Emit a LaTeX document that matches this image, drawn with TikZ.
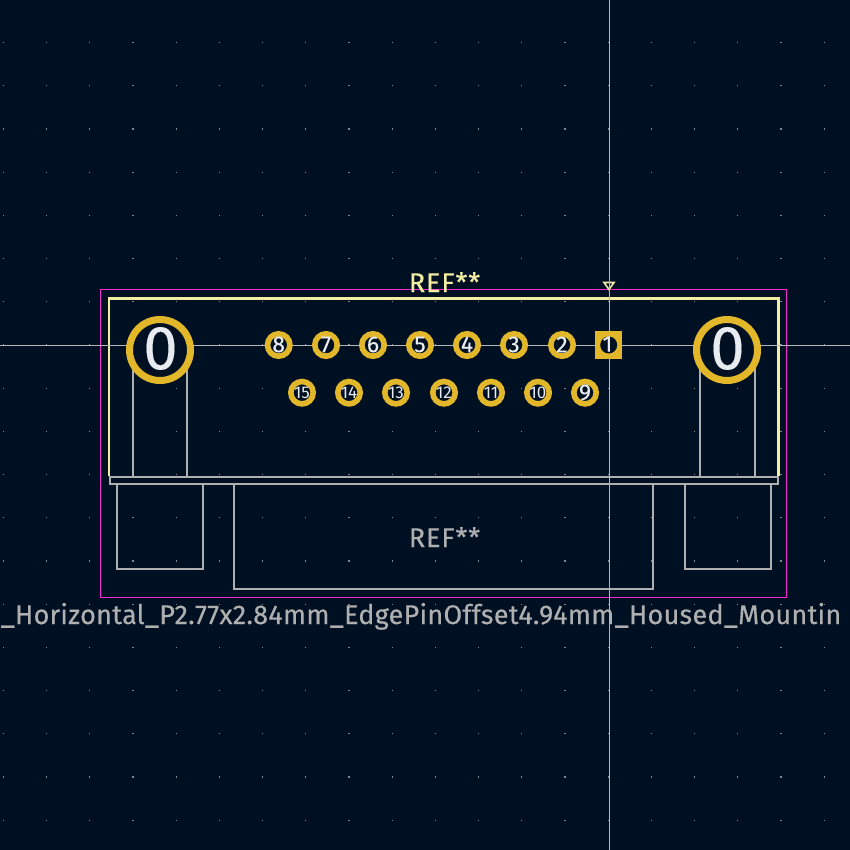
\documentclass[tikz,border=0pt]{standalone}
\usepackage{fontspec}
\setmainfont{Fira Sans}
\newfontfamily\kifont[LetterSpace=3.2,FakeBold=0.35]{Fira Sans}
\newfontfamily\valfont[LetterSpace=1.0,FakeBold=0.35]{Fira Sans}
\newfontfamily\numfont[FakeBold=0.2]{Fira Sans}
\definecolor{bgc}{HTML}{001023}
\definecolor{padc}{HTML}{E3B72A}
\definecolor{silk}{HTML}{F2EDA1}
\definecolor{crt}{HTML}{F02CD6}
\definecolor{fab}{HTML}{AFAFAF}
\definecolor{hole}{HTML}{E8EBEF}
\definecolor{griddot}{HTML}{84878C}
\definecolor{cross}{HTML}{B4B6B9}
\tikzset{
  padround/.style={circle,draw=padc,fill=bgc,line width=5.6pt,minimum size=22.4pt,inner sep=0pt},
  padsquare/.style={rectangle,fill=padc,minimum width=27.5pt,minimum height=28pt,inner sep=0pt},
  padhole/.style={circle,fill=bgc,minimum size=17pt,inner sep=0pt},
  mount/.style={circle,draw=padc,fill=bgc,line width=7pt,minimum size=61pt,inner sep=0pt},
  padnum/.style={text=hole,inner sep=0pt,font=\numfont\fontsize{23}{23}\selectfont},
  padnumsmall/.style={text=hole,inner sep=0pt,font=\fontsize{17}{17}\selectfont},
  mountnum/.style={text=hole,inner sep=0pt,font=\numfont\fontsize{62}{62}\selectfont},
  fabline/.style={draw=fab,line width=2pt},
  ref/.style={inner sep=0pt,anchor=base,font=\kifont\fontsize{27}{27}\selectfont},
  val/.style={inner sep=0pt,anchor=base west,font=\valfont\fontsize{27}{27}\selectfont},
}
\begin{document}
\begin{tikzpicture}[x=1pt,y=-1pt]
\useasboundingbox (0,0) rectangle (850,850);
\clip (0,0) rectangle (850,850);
\fill[bgc] (0,0) rectangle (850,850);
% grid
\foreach \i in {0,...,19}{\foreach \j in {0,...,18}{
  \fill[griddot] ({3.4+43.2*\i-0.6},{42.6+43.2*\j-0.6}) rectangle +(1.2,1.2);
}}
% courtyard
\draw[crt,line width=1.5pt] (100.7,289.5) rectangle (786.3,597.3);
% fab
\draw[fabline] (110,476.7) rectangle (778,484);
\draw[fabline] (116.7,484) -- (116.7,568.7) -- (203,568.7) -- (203,484);
\draw[fabline] (233.7,484) -- (233.7,589) -- (653,589) -- (653,484);
\draw[fabline] (685,484) -- (685,568.7) -- (770.5,568.7) -- (770.5,484);
\draw[fabline] (133,350) -- (133,476.7);
\draw[fabline] (187,350) -- (187,476.7);
\draw[fabline] (700,350) -- (700,476.7);
\draw[fabline] (754.7,350) -- (754.7,476.7);
% silk
\draw[silk,line width=2.6pt] (109,476) -- (109,298.3) -- (778.7,298.3) -- (778.7,476);
\coordinate (tl) at (604,282.5);
\coordinate (tr) at (614,282.5);
\coordinate (tb) at (609,289.5);
\draw[silk,line width=1.6pt] (tl) -- (tr) -- (tb) -- cycle;
% texts
\node[ref,text=silk] (reftop) at (444.5,292) {REF**};
\node[ref,text=fab] (reffab) at (444.5,547) {REF**};
\node[val,text=fab] (value) at (0.5,624) {\_Horizontal\_P2.77x2.84mm\_EdgePinOffset4.94mm\_Housed\_Mountin};
% crosshair
\coordinate (cw) at (0,345.3);
\coordinate (ce) at (850,345.3);
\coordinate (cn) at (609.4,0);
\coordinate (cs) at (609.4,850);
\draw[cross,line width=1.2pt] (cw) -- (ce);
\draw[cross,line width=1.2pt] (cn) -- (cs);
% mounting holes
\node[mount] (mh1) at (160,350) {};
\node[mount] (mh2) at (727,350) {};
\node[mountnum] (mt1) at (160.5,348.5) {0};
\node[mountnum] (mt2) at (727.5,348.5) {0};
% pads top row
\node[padsquare] (p1) at (608.7,345) {};
\node[padhole] (h1) at (608.7,345) {};
\node[padnum] (t1) at (607.5,344) {1};
\foreach \n/\x in {2/562,3/514,4/467,5/420,6/373,7/326,8/278.7}{
  \node[padround] (p\n) at (\x,345) {};
  \node[padnum] (t\n) at (\x,344.5) {\n};
}
\node[padround] (p9) at (585,392.7) {};
\node[padnum] (t9) at (585,392.5) {9};
\foreach \n/\x in {10/538,11/491,12/444,13/396,14/349,15/302}{
  \node[padround] (p\n) at (\x,392.7) {};
  \node[padnumsmall] (t\n) at (\x,393) {\n};
}
\end{tikzpicture}
\end{document}
